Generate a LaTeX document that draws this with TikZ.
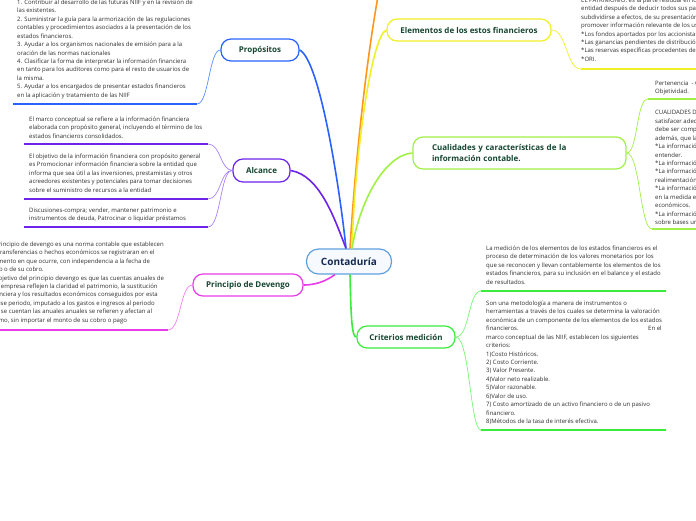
\documentclass[tikz,border=0pt]{standalone}
\usepackage{fontspec}
\setmainfont{Open Sans}
\definecolor{cblue}{RGB}{41,98,255}
\definecolor{cbluel}{RGB}{90,140,255}
\definecolor{cpurple}{RGB}{110,35,235}
\definecolor{cpurplel}{RGB}{170,130,245}
\definecolor{cmagenta}{RGB}{232,60,232}
\definecolor{cmagental}{RGB}{240,130,240}
\definecolor{corange}{RGB}{255,150,30}
\definecolor{cyellow}{RGB}{240,240,40}
\definecolor{clgreen}{RGB}{160,240,70}
\definecolor{cgreen}{RGB}{60,235,60}
\definecolor{cgreenl}{RGB}{120,245,120}
\definecolor{crootline}{RGB}{95,160,220}
\definecolor{crootfill}{RGB}{246,250,255}
\definecolor{crootnavy}{RGB}{20,40,80}
\definecolor{clabel}{RGB}{22,70,50}
\definecolor{cbody}{RGB}{45,45,45}
\tikzset{
  lbl/.style={draw, line width=1.2pt, rounded corners=10pt, fill=white,
    font=\bfseries\fontsize{8}{10}\selectfont, text=clabel, inner sep=0pt,
    minimum height=22pt},
  body/.style={anchor=north west, inner sep=0pt, align=left,
    font=\fontsize{6}{8.45}\selectfont, text=cbody,
    execute at begin node={\rule{0pt}{5.4pt}}},
  conn/.style={line width=1.6pt},
  subconn/.style={line width=0.7pt},
  uline/.style={line width=1.5pt},
}
\begin{document}
\begin{tikzpicture}[x=1pt,y=-1pt]
\useasboundingbox (0,0) rectangle (696,520);
\clip (0,0) rectangle (696,520);

% ---------- labels ----------
\node[lbl, draw=crootline, fill=crootfill, minimum width=85pt, minimum height=25pt,
  rounded corners=12pt, font=\bfseries\fontsize{10}{12}\selectfont, text=crootnavy]
  (root) at (349,261.5) {Contaduría};
\node[lbl, draw=cblue, minimum width=78pt] (prop) at (260,50) {Propósitos};
\node[lbl, draw=cpurple, minimum width=57pt, minimum height=23pt] (alc) at (261.5,170.5) {Alcance};
\node[lbl, draw=cmagenta, minimum width=110pt] (dev) at (248,285) {Principio de Devengo};
\node[lbl, draw=cyellow, minimum width=164pt] (elem) at (469,30) {Elementos de los estos financieros};
\node[lbl, draw=clgreen, minimum width=213pt, minimum height=32pt, align=left,
  text width=175pt, font=\bfseries\fontsize{8}{11}\selectfont]
  (cual) at (519.5,153) {Cualidades y características de la\\información contable.};
\node[lbl, draw=cgreen, minimum width=98pt] (crit) at (406,337) {Criterios medición};

\coordinate (offtop) at (382,-25);

% ---------- main connectors ----------
\draw[conn, cblue] ([xshift=-3pt]root.north) .. controls (340,190) and (320,60) .. (prop.east);
\draw[conn, cpurple] ([xshift=-3pt]root.north) .. controls (335,220) and (320,175) .. (alc.east);
\draw[conn, corange] ([xshift=1pt]root.north) .. controls (354,180) and (365,60) .. (offtop);
\draw[conn, cyellow] ([xshift=3pt]root.north) .. controls (355,150) and (372,35) .. (elem.west);
\draw[conn, clgreen] ([xshift=3pt]root.north) .. controls (360,200) and (385,155) .. (cual.west);
\draw[conn, cgreen] ([xshift=1pt]root.south) .. controls (351,320) and (352,337) .. (crit.west);
\draw[conn, cmagenta] ([xshift=-14pt]root.south) .. controls (330,278) and (320,285) .. (dev.east);

% ---------- Propositos ----------
\node[body] (tprop) at (17,-0.5) {1. Contribuir al desarrollo de las futuras NIIF y en la revisión de\\las existentes.\\2. Suministrar la guía para la armorización de las regulaciones\\contables y procedimientos asociados a la presentación de los\\estados financieros.\\3. Ayudar a los organismos nacionales de emisión para a la\\oración de las normas nacionales\\4. Clasificar la forma de interpretar la información financiera\\en tanto para los auditores como para el resto de usuarios de\\la misma.\\5. Ayudar a los encargados de presentar estados financieros\\en la aplicación y tratamiento de las NIIF};
\coordinate (up1) at (13,104);
\coordinate (up2) at (197,104);
\draw[uline, cblue] (up1) -- (up2);
\draw[subconn, cbluel] (prop.west) .. controls (209,50) and (209,104) .. (up2);

% ---------- Alcance ----------
\node[body] (talc1) at (29,116.5) {El marco conceptual se refiere a la información financiera\\elaborada con propósito general, incluyendo el término de los\\estados financieros consolidados.};
\node[body] (talc2) at (29,153.5) {El objetivo de la información financiera con propósito general\\es Promocionar información financiera sobre la entidad que\\informa que sea útil a las inversiones, prestamistas y otros\\acreedores existentes y potenciales para tomar decisiones\\sobre el suministro de recursos a la entidad};
\node[body] (talc3) at (29,207.5) {Discusiones-compra; vender, mantener patrimonio e\\instrumentos de deuda, Patrocinar o liquidar préstamos};
\coordinate (ua1l) at (24,144);  \coordinate (ua1r) at (208,144);
\coordinate (ua2l) at (24,199);  \coordinate (ua2r) at (208,199);
\coordinate (ua3l) at (24,227);  \coordinate (ua3r) at (208,227);
\draw[uline, cpurple] (ua1l) -- (ua1r);
\draw[uline, cpurple] (ua2l) -- (ua2r);
\draw[uline, cpurple] (ua3l) -- (ua3r);
\draw[subconn, cpurplel] (alc.west) .. controls (220,170) and (221,144) .. (ua1r);
\draw[subconn, cpurplel] (alc.west) .. controls (220,170) and (221,199) .. (ua2r);
\draw[subconn, cpurplel] (alc.west) .. controls (220,170) and (221,227) .. (ua3r);

% ---------- Principio de Devengo ----------
\node[body] (tdev) at (-11.5,241.5) {El principio de devengo es una norma contable que establecen\\las transferencias o hechos económicos se registraran en el\\momento en que ocurre, con independencia a la fecha de\\pago o de su cobro.\\El objetivo del principio devengo es que las cuentas anuales de\\una empresa reflejen la claridad el patrimonio, la sustitución\\financiera y los resultados económicos conseguidos por esta\\en ese periodo, imputado a los gastos e ingresos al periodo\\que se cuentan las anuales anuales se refieren y afectan al\\mismo, sin importar el monto de su cobro o pago};
\coordinate (ud1) at (-5,330);
\coordinate (ud2) at (168,330);
\draw[uline, cmagenta] (ud1) -- (ud2);
\draw[subconn, cmagental] (dev.west) .. controls (180,285) and (181,330) .. (ud2);

% ---------- Elementos ----------
\node[body] (telem) at (581,-2.5) {EL PATRIMONIO: es la parte residual en los activos de la\\entidad después de deducir todos sus pasivos, puede\\subdividirse a efectos, de su presentación para\\promover información relevante de los usuarios\\*Los fondos aportados por los accionistas\\*Las ganancias pendientes de distribución\\*Las reservas específicas procedentes de\\*ORI.};
\coordinate (ue1) at (581,69);
\coordinate (ue2) at (700,69);
\draw[uline, cyellow] (ue1) -- (ue2);
\draw[subconn, cyellow] (elem.east) .. controls (567,30) and (566,69) .. (ue1);

% ---------- Cualidades ----------
\node[body] (tcual1) at (655,80.5) {Pertenencia \ - Confiabilidad -\\Objetividad.};
\node[body] (tcual2) at (655,109) {CUALIDADES DE LA INFORMACIÓN\\satisfacer adecuadamente las necesidades\\debe ser comprensible, útil, confiable\\además, que la información sea\\*La información es comprensible al\\entender.\\*La información es útil y oportuna\\*La información es confiable y su\\realimentación\\*La información es relevante\\en la medida en que refleja hechos\\económicos.\\*La información es comparable\\sobre bases uniformes};
\coordinate (uc1) at (648,99);  \coordinate (uc1r) at (700,99);
\coordinate (uc2) at (652,229); \coordinate (uc2r) at (700,229);
\draw[uline, clgreen] (uc1) -- (uc1r);
\draw[uline, clgreen] (uc2) -- (uc2r);
\draw[subconn, clgreen] (cual.east) .. controls (638,153) and (636,99) .. (uc1);
\draw[subconn, clgreen] (cual.east) .. controls (640,153) and (640,229) .. (uc2);

% ---------- Criterios medicion ----------
\node[body] (tcrit1) at (486,245.5) {La medición de los elementos de los estados financieros es el\\proceso de determinación de los valores monetarios por los\\que se reconocen y llevan contablemente los elementos de los\\estados financieros, para su inclusión en el balance y el estado\\de resultados.};
\node[body] (tcrit2) at (486,300.5) {Son una metodología a manera de instrumentos o\\herramientas a través de los cuales se determina la valoración\\económica de un componente de los elementos de los estados\\\makebox[162pt][l]{financieros.}En el\\marco conceptual de las NIIF, establecen los siguientes\\criterios:\\1)Costo Históricos.\\2) Costo Corriente.\\3) Valor Presente.\\4)Valor neto realizable.\\5)Valor razonable.\\6)Valor de uso.\\7) Costo amortizado de un activo financiero o de un pasivo\\financiero.\\8)Métodos de la tasa de interés efectiva.};
\coordinate (ucr1l) at (481,291); \coordinate (ucr1r) at (666,291);
\coordinate (ucr2l) at (481,430); \coordinate (ucr2r) at (666,430);
\draw[uline, cgreen] (ucr1l) -- (ucr1r);
\draw[uline, cgreen] (ucr2l) -- (ucr2r);
\draw[subconn, cgreenl] (crit.east) .. controls (470,337) and (468,291) .. (ucr1l);
\draw[subconn, cgreenl] (crit.east) .. controls (470,337) and (470,430) .. (ucr2l);
\end{tikzpicture}
\end{document}
